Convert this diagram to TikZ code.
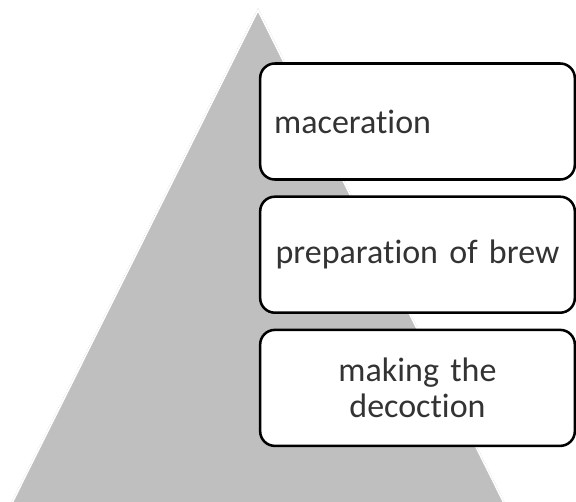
\documentclass[tikz,border=0pt]{standalone}
\usepackage{fontspec}
\setmainfont{Carlito}[Ligatures=NoCommon]
\usetikzlibrary{positioning}

\begin{document}
\begin{tikzpicture}[x=0.75pt,y=-0.75pt,node distance=11pt,
	stage/.style={draw=black,line width=1.9pt,fill=white,rounded corners=11pt,
		minimum width=236pt,minimum height=87pt,text width=215pt,inner xsep=10.5pt,
		font=\fontsize{25.5}{27}\selectfont,text=black!80}]
				\useasboundingbox (0,0) rectangle (576,502);
				% background pyramid
				\fill[gray!50] (258,12) -- (13,502) -- (503,502) -- cycle;
				\draw[white,line width=1.2pt] (12,503) -- (258,10) -- (504,503);
				\draw[gray!40,densely dotted,line width=0.4pt] (11,503) -- (258,8) -- (505,503);
				\node[stage,align=left] (mac) at (417.5,121.5) {maceration};
				\node[stage,align=center] [below= of mac] (brew) {preparation of brew};
				\node[stage,align=center] [below= of brew] (dec) {making the\\decoction};
			\end{tikzpicture}
\end{document}
